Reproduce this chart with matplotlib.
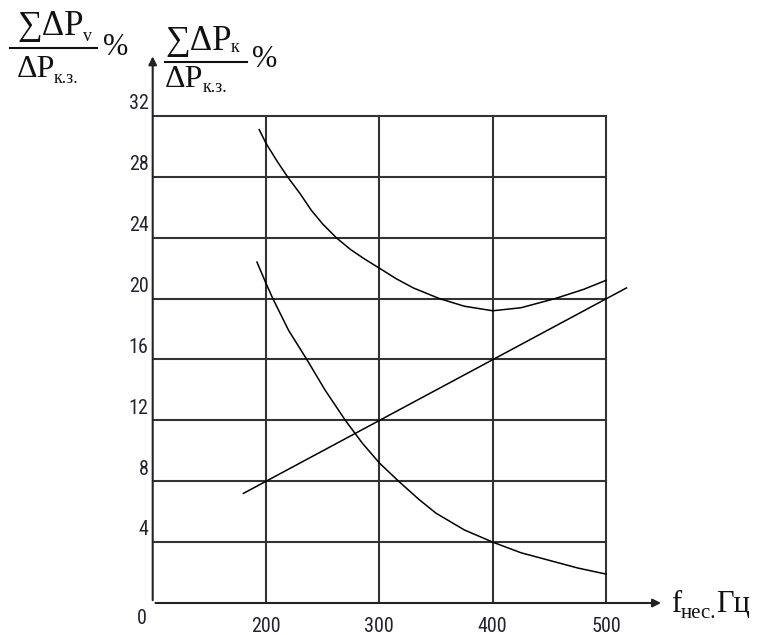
import matplotlib
matplotlib.use('Agg')
import matplotlib.pyplot as plt
from matplotlib.lines import Line2D

# данные
f_upper = [194, 200, 210, 219, 230, 240, 250, 262, 275, 287, 300, 315, 330, 353, 375, 400, 425, 455, 480, 500]
p_upper = [31.1, 30.2, 29.0, 28.0, 26.9, 25.8, 24.9, 24.0, 23.2, 22.6, 22.0, 21.3, 20.7, 20.0, 19.5, 19.2, 19.4, 20.0, 20.6, 21.2]

f_lower = [192, 200, 206, 220, 236, 252, 270, 285, 300, 317, 335, 350, 375, 400, 425, 450, 475, 500]
p_lower = [22.4, 21.0, 20.0, 17.9, 16.0, 14.0, 12.0, 10.5, 9.2, 8.0, 6.8, 5.9, 4.8, 4.0, 3.3, 2.8, 2.3, 1.9]

f_line = [180, 518]
p_line = [7.2, 20.7]

x_ticks = [200, 300, 400, 500]
y_ticks = [4, 8, 12, 16, 20, 24, 28, 32]

W, H = 760, 635
fig = plt.figure(figsize=(W / 100, H / 100), dpi=100)
ax = fig.add_axes([152.7 / W, 32 / H, 460 * 1.1333 / W, 37 * 15.22 / H])
ax.set_xlim(100, 560)
ax.set_ylim(0, 37)
ax.axis('off')

grid_c = '#333333'
for x in x_ticks:
    ax.plot([x, x], [0, 32], color=grid_c, lw=1.5)
for y in y_ticks:
    ax.plot([100, 500], [y, y], color=grid_c, lw=1.5)

# оси со стрелками
ax.annotate('', xy=(551, 0), xytext=(100, 0),
            arrowprops=dict(arrowstyle='-|>', color='#222222', lw=1.5, mutation_scale=12))
ax.annotate('', xy=(100, 36.1), xytext=(100, 0),
            arrowprops=dict(arrowstyle='-|>', color='#222222', lw=1.5, mutation_scale=12))

ax.plot(f_upper, p_upper, color='black', lw=1.1)
ax.plot(f_lower, p_lower, color='black', lw=1.1)
ax.plot(f_line, p_line, color='black', lw=1.1)

tick_font = ['Roboto Condensed', 'DejaVu Sans']
for y in y_ticks:
    ax.text(96.5, y + 0.8, str(y), ha='right', va='center', fontsize=14.5,
            family=tick_font, color='#222233')
ax.text(90, -1.0, '0', ha='center', va='center', fontsize=14.5, family=tick_font, color='#222233')
for x in x_ticks:
    ax.text(x, -1.55, str(x), ha='center', va='center', fontsize=14.5,
            family=tick_font, color='#222233', clip_on=False)


def px(x, y):
    return x / W, 1 - y / H


serif = ['Liberation Serif', 'DejaVu Serif']


def t(x, y, s, size):
    fig.text(*px(x, y), s, fontsize=size, family=serif, va='baseline', ha='left', color='#111111')


# подпись первой оси
t(17, 35, '∑ΔP', 25)
t(83, 41, 'v', 13)
fig.add_artist(Line2D([10 / W, 97 / W], [1 - 48 / H, 1 - 48 / H], color='#111111', lw=1.5))
t(17, 77, 'ΔP', 23)
t(54, 83, 'к.з.', 13)
t(103, 55, '%', 22)

# подпись второй оси
t(165, 50, '∑ΔP', 25)
t(231, 52, 'к', 13)
fig.add_artist(Line2D([165 / W, 247 / W], [1 - 62 / H, 1 - 62 / H], color='#111111', lw=1.5))
t(165, 87, 'ΔP', 23)
t(203, 92, 'к.з.', 13)
t(252, 67, '%', 22)

# подпись оси x
t(671, 612, 'f', 22)
t(681, 618, 'нес.', 15)
t(716, 612, 'Гц', 22)

fig.savefig('out.png', dpi=100, facecolor='white')
